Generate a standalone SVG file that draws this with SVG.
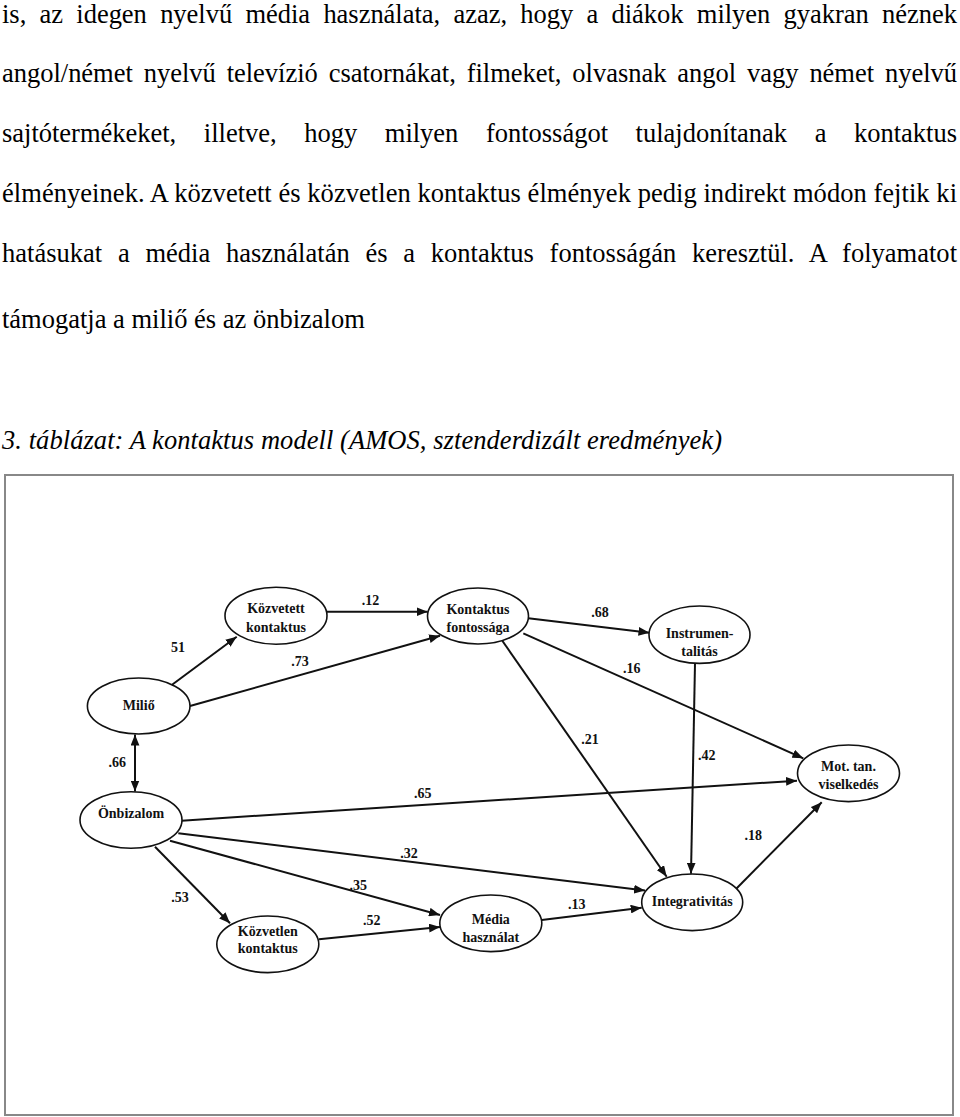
<svg xmlns="http://www.w3.org/2000/svg" width="960" height="1117" viewBox="0 0 960 1117">
<style>
.para{font-family:"Liberation Serif","Times New Roman",serif;font-size:26.5px;fill:#000}
.cap{font-family:"Liberation Serif","Times New Roman",serif;font-size:26.5px;font-style:italic;fill:#000}
.node ellipse{fill:#fff;stroke:#111;stroke-width:1.6}
.node text,.lbl{font-family:"Liberation Serif","Times New Roman",serif;font-size:14px;font-weight:bold;fill:#111;text-anchor:middle}
.edge{stroke:#111;stroke-width:2;fill:none}
</style>
<defs>
<marker id="ah" viewBox="0 0 10 8" refX="10" refY="4" markerWidth="11" markerHeight="9" markerUnits="userSpaceOnUse" orient="auto">
<path d="M0,0 L10,4 L0,8 z" fill="#111"/>
</marker>
<marker id="ahs" viewBox="0 0 10 8" refX="10" refY="4" markerWidth="11" markerHeight="9" markerUnits="userSpaceOnUse" orient="auto-start-reverse">
<path d="M0,0 L10,4 L0,8 z" fill="#111"/>
</marker>
</defs>
<rect width="960" height="1117" fill="#fff"/>
<g id="paragraph">
<text class="para" x="2" y="23" word-spacing="6.7" textLength="955" lengthAdjust="spacing">is, az idegen nyelvű média használata, azaz, hogy a diákok milyen gyakran néznek</text>
<text class="para" x="2" y="82" word-spacing="4.3" textLength="955" lengthAdjust="spacing">angol/német nyelvű televízió csatornákat, filmeket, olvasnak angol vagy német nyelvű</text>
<text class="para" x="2" y="142" word-spacing="21" textLength="955" lengthAdjust="spacing">sajtótermékeket, illetve, hogy milyen fontosságot tulajdonítanak a kontaktus</text>
<text class="para" x="2" y="202" textLength="955" lengthAdjust="spacing">élményeinek. A közvetett és közvetlen kontaktus élmények pedig indirekt módon fejtik ki</text>
<text class="para" x="2" y="262" word-spacing="9.1" textLength="955" lengthAdjust="spacing">hatásukat a média használatán és a kontaktus fontosságán keresztül. A folyamatot</text>
<text class="para" x="2" y="328">támogatja a miliő és az önbizalom</text>
<text class="cap" x="2" y="449" textLength="720" lengthAdjust="spacing">3. táblázat: A kontaktus modell (AMOS, sztenderdizált eredmények)</text>
</g>
<rect id="frame" x="5" y="475" width="948" height="640" fill="none" stroke="#888" stroke-width="2"/>
<g id="connectors">
<line class="edge" x1="171.7" y1="685" x2="236.7" y2="636.7" marker-end="url(#ah)"/>
<line class="edge" x1="190" y1="706" x2="440" y2="635.7" marker-end="url(#ah)"/>
<line class="edge" x1="327" y1="611.7" x2="427.7" y2="611.7" marker-end="url(#ah)"/>
<line class="edge" x1="528.3" y1="618.3" x2="649.5" y2="632.7" marker-end="url(#ah)"/>
<line class="edge" x1="523.3" y1="633.3" x2="803.3" y2="758.3" marker-end="url(#ah)"/>
<line class="edge" x1="502.3" y1="640.7" x2="666.7" y2="876.7" marker-end="url(#ah)"/>
<line class="edge" x1="695" y1="663.3" x2="691" y2="873.8" marker-end="url(#ah)"/>
<line class="edge" x1="181.7" y1="820.7" x2="797" y2="780.7" marker-end="url(#ah)"/>
<line class="edge" x1="178.3" y1="833.3" x2="645" y2="890.5" marker-end="url(#ah)"/>
<line class="edge" x1="170" y1="840.7" x2="440" y2="915" marker-end="url(#ah)"/>
<line class="edge" x1="155" y1="846.7" x2="230" y2="923.3" marker-end="url(#ah)"/>
<line class="edge" x1="319" y1="939.3" x2="440" y2="927" marker-end="url(#ah)"/>
<line class="edge" x1="541.7" y1="920" x2="641.7" y2="907.7" marker-end="url(#ah)"/>
<line class="edge" x1="735" y1="890" x2="821.7" y2="802.3" marker-end="url(#ah)"/>
<line class="edge" x1="135" y1="734.5" x2="135" y2="791.5" marker-start="url(#ahs)" marker-end="url(#ah)"/>
</g>
<g id="edge-labels">
<text class="lbl" x="178" y="652">51</text>
<text class="lbl" x="370.5" y="605">.12</text>
<text class="lbl" x="300" y="666">.73</text>
<text class="lbl" x="600" y="617">.68</text>
<text class="lbl" x="631.7" y="673">.16</text>
<text class="lbl" x="590" y="744">.21</text>
<text class="lbl" x="706.7" y="760">.42</text>
<text class="lbl" x="422.7" y="798">.65</text>
<text class="lbl" x="409" y="857.5">.32</text>
<text class="lbl" x="358.3" y="890">.35</text>
<text class="lbl" x="180" y="901.5">.53</text>
<text class="lbl" x="371.7" y="925">.52</text>
<text class="lbl" x="576.7" y="909">.13</text>
<text class="lbl" x="753.3" y="840">.18</text>
<text class="lbl" x="117.3" y="766.5">.66</text>
</g>
<g id="kozvetett" class="node"><ellipse cx="276" cy="615.7" rx="51" ry="28.5"/><text x="276" y="613">Közvetett</text><text x="276" y="632">kontaktus</text></g>
<g id="kontaktus-fontossaga" class="node"><ellipse cx="478" cy="616" rx="50.5" ry="28"/><text x="478" y="614">Kontaktus</text><text x="478" y="632">fontossága</text></g>
<g id="instrumentalitas" class="node"><ellipse cx="699.5" cy="634.7" rx="50.5" ry="28.7"/><text x="699.5" y="638">Instrumen-</text><text x="699.5" y="656">talitás</text></g>
<g id="milio" class="node"><ellipse cx="138.7" cy="706" rx="51.3" ry="28"/><text x="138.7" y="710">Miliő</text></g>
<g id="onbizalom" class="node"><ellipse cx="131" cy="820" rx="51" ry="28.3"/><text x="131" y="817.5">Önbizalom</text></g>
<g id="mot-tan" class="node"><ellipse cx="848.5" cy="773.3" rx="51" ry="28.3"/><text x="848.5" y="771">Mot. tan.</text><text x="848.5" y="788.5">viselkedés</text></g>
<g id="kozvetlen" class="node"><ellipse cx="267.8" cy="944.3" rx="51" ry="28.3"/><text x="267.8" y="935.5">Közvetlen</text><text x="267.8" y="953">kontaktus</text></g>
<g id="media" class="node"><ellipse cx="490.8" cy="923.3" rx="51" ry="28.3"/><text x="490.8" y="924">Média</text><text x="490.8" y="941.5">használat</text></g>
<g id="integrativitas" class="node"><ellipse cx="692.2" cy="902.3" rx="50.5" ry="28.3"/><text x="692.2" y="906">Integrativitás</text></g>
</svg>
